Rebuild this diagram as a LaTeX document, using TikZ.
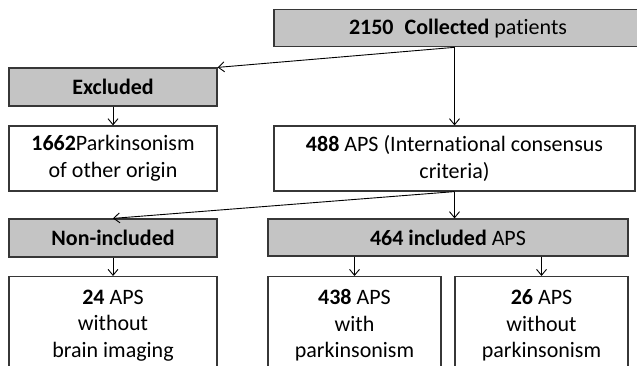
\documentclass[tikz,border=0pt]{standalone}
\usepackage{fontspec}
\setmainfont[Ligatures=NoCommon]{Carlito}
\usetikzlibrary{arrows.meta}
\definecolor{boxgrey}{RGB}{196,196,196}
\definecolor{boxline}{RGB}{55,55,55}
\tikzset{
  greybox/.style={draw=boxline, fill=boxgrey, line width=1.2pt, inner sep=0pt,
    align=center, font=\fontsize{22}{26.5}\selectfont},
  whitebox/.style={draw=boxline, fill=white, line width=1.2pt, inner sep=0pt,
    align=center, font=\fontsize{22}{26.5}\selectfont},
  flow/.style={-{Straight Barb[length=6pt,width=10pt]}, line width=0.9pt, draw=black}
}
\begin{document}
\begin{tikzpicture}[x=1pt,y=-1pt]
    \useasboundingbox (0,0) rectangle (637,366);
    \node[greybox, minimum width=368pt, minimum height=37pt] (collected) at (458,28.25) {\textbf{2150}\hspace{11pt}\textbf{Collected} patients};
    \node[greybox, minimum width=208pt, minimum height=38pt] (excluded) at (113,87) {\textbf{Excluded}};
    \node[whitebox, minimum width=208pt, minimum height=65pt] (other) at (113,158.5) {\textbf{1662}Parkinsonism\\of other origin};
    \node[whitebox, minimum width=361pt, minimum height=65pt] (aps) at (454.5,158.5) {\textbf{488} APS (International consensus\\criteria)};
    \node[greybox, minimum width=208pt, minimum height=38pt] (noninc) at (113,238) {\textbf{Non-included}};
    \node[greybox, minimum width=360pt, minimum height=37pt] (included) at (448,237.5) {\textbf{464 included} APS};
    \node[whitebox, anchor=north, minimum width=208pt, inner ysep=13pt] (nobrain) at (113,276) {\textbf{24} APS\\without\\brain imaging};
    \node[whitebox, anchor=north, minimum width=173pt, inner ysep=13pt] (withpark) at (354.5,276) {\textbf{438} APS\\with\\parkinsonism};
    \node[whitebox, anchor=north, minimum width=173pt, inner ysep=13pt] (withoutpark) at (541.5,276) {\textbf{26} APS\\without\\parkinsonism};
    \draw[flow] (collected.south -| aps.north) -- (excluded.north east);
    \draw[flow] (collected.south -| aps.north) -- (aps.north);
    \draw[flow] (excluded.south) -- (other.north);
    \draw[flow] (aps.south) -- (noninc.north);
    \draw[flow] (aps.south) -- (aps.south |- included.north);
    \draw[flow] (noninc.south) -- (nobrain.north);
    \draw[flow] (withpark.north |- included.south) -- (withpark.north);
    \draw[flow] (withoutpark.north |- included.south) -- (withoutpark.north);
  \end{tikzpicture}
\end{document}
